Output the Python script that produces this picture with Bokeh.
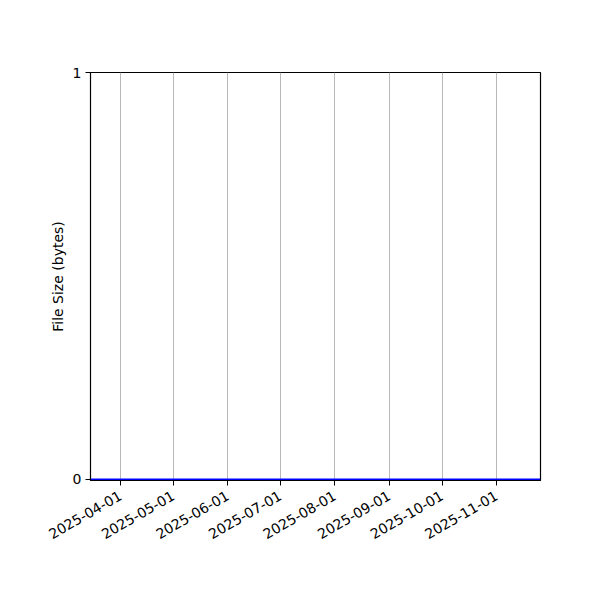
import math
from datetime import datetime
from bokeh.plotting import figure
from bokeh.models import FixedTicker, DatetimeTickFormatter, Range1d
from bokeh.embed import file_html
from bokeh.resources import INLINE

# Data
dates = ["2025-03-15", "2025-04-15", "2025-05-15", "2025-06-15", "2025-07-15",
         "2025-08-15", "2025-09-15", "2025-10-15", "2025-11-26"]
file_sizes = [0, 0, 0, 0, 0, 0, 0, 0, 0]
tick_dates = ["2025-04-01", "2025-05-01", "2025-06-01", "2025-07-01",
              "2025-08-01", "2025-09-01", "2025-10-01", "2025-11-01"]
y_ticks = [0, 1]
y_label = "File Size (bytes)"

def to_dt(s):
    return datetime.strptime(s, "%Y-%m-%d")

def to_ms(s):
    return (to_dt(s) - datetime(1970, 1, 1)).total_seconds() * 1000.0

xs = [to_dt(d) for d in dates]

p = figure(width=584, height=584, x_axis_type="datetime",
           output_backend="svg", toolbar_location=None,
           min_border_left=90, min_border_right=44,
           min_border_top=72, min_border_bottom=104,
           x_range=Range1d(to_dt(dates[0]), to_dt(dates[-1])),
           y_range=Range1d(-0.003, 1))

p.line(xs, file_sizes, line_color="#0000ff", line_width=1.6)

p.background_fill_color = "white"
p.border_fill_color = "white"
p.outline_line_color = "black"
p.outline_line_width = 1.2
p.outline_line_alpha = 1

# grids
p.ygrid.grid_line_color = None
p.xgrid.grid_line_color = "#b0b0b0"
p.xgrid.grid_line_width = 0.9
p.xgrid.ticker = FixedTicker(ticks=[to_ms(t) for t in tick_dates])

FS = "14px"

# x axis
xa = p.xaxis[0]
xa.ticker = FixedTicker(ticks=[to_ms(t) for t in tick_dates])
fmt = "%Y-%m-%d"
xa.formatter = DatetimeTickFormatter(milliseconds=fmt, seconds=fmt, minsec=fmt,
                                     minutes=fmt, hourmin=fmt, hours=fmt,
                                     days=fmt, months=fmt, years=fmt)
xa.major_label_orientation = math.pi / 6
xa.major_label_text_font = "DejaVu Sans"
xa.major_label_text_font_size = FS
xa.major_label_text_color = "black"
xa.major_tick_out = 5
xa.major_tick_in = 0
xa.minor_tick_out = 0
xa.minor_tick_in = 0
xa.major_tick_line_color = "black"
xa.axis_line_color = "black"
xa.major_label_standoff = 9

# y axis
ya = p.yaxis[0]
ya.ticker = FixedTicker(ticks=y_ticks)
ya.major_label_text_font = "DejaVu Sans"
ya.major_label_text_font_size = FS
ya.major_label_text_color = "black"
ya.major_tick_out = 5
ya.major_tick_in = 0
ya.minor_tick_out = 0
ya.minor_tick_in = 0
ya.major_tick_line_color = "black"
ya.axis_line_color = "black"
ya.major_label_standoff = 4
ya.axis_label = y_label
ya.axis_label_text_font = "DejaVu Sans"
ya.axis_label_text_font_size = FS
ya.axis_label_text_font_style = "normal"
ya.axis_label_text_color = "black"
ya.axis_label_standoff = 4

open("out.html", "w").write(file_html(p, INLINE))
